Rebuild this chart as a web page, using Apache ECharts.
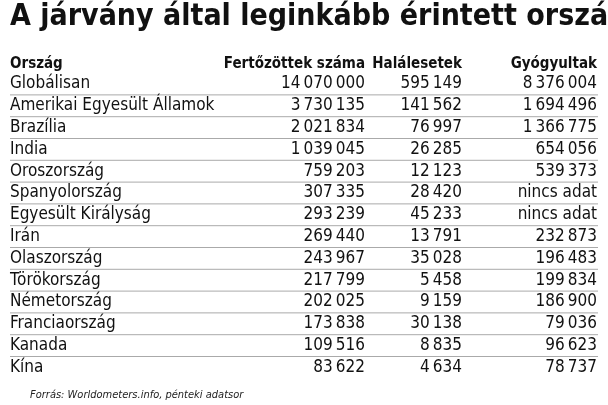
<!DOCTYPE html>
<html>
<head>
<meta charset="utf-8">
<script src="https://cdn.jsdelivr.net/npm/echarts@6/dist/echarts.min.js"></script>
<style>html,body{margin:0;padding:0;background:#fff}#main{width:608px;height:405px}</style>
</head>
<body>
<div id="main"></div>
<script>
var title = 'A járvány által leginkább érintett országok';
var headers = ['Ország', 'Fertőzöttek száma', 'Halálesetek', 'Gyógyultak'];
var countries = ['Globálisan', 'Amerikai Egyesült Államok', 'Brazília', 'India', 'Oroszország',
  'Spanyolország', 'Egyesült Királyság', 'Irán', 'Olaszország', 'Törökország',
  'Németország', 'Franciaország', 'Kanada', 'Kína'];
var infected = ['14 070 000', '3 730 135', '2 021 834', '1 039 045', '759 203', '307 335', '293 239',
  '269 440', '243 967', '217 799', '202 025', '173 838', '109 516', '83 622'];
var deaths = ['595 149', '141 562', '76 997', '26 285', '12 123', '28 420', '45 233',
  '13 791', '35 028', '5 458', '9 159', '30 138', '8 835', '4 634'];
var recovered = ['8 376 004', '1 694 496', '1 366 775', '654 056', '539 373', 'nincs adat', 'nincs adat',
  '232 873', '196 483', '199 834', '186 900', '79 036', '96 623', '78 737'];
var source = 'Forrás: Worldometers.info, pénteki adatsor';

var myChart = echarts.init(document.getElementById('main'));
var bodyFont = '"Liberation Sans Narrow", "DejaVu Sans Condensed", sans-serif';
var colRight = [null, 365, 462, 597];
var rowTop = 84, rowH = 21.8;
var els = [];

// numbers use a thin space as thousands separator
function thin(s) { return s.replace(/ (?=\d)/g, '\u2009'); }

els.push({type: 'text', left: 10, top: 2, style: {text: title, fill: '#111',
  font: 'bold 30px ' + bodyFont}});

headers.forEach(function (h, i) {
  els.push({type: 'text', x: i === 0 ? 10 : colRight[i], y: 64,
    style: {text: h, fill: '#111', font: 'bold 15px ' + bodyFont,
      align: i === 0 ? 'left' : 'right', verticalAlign: 'middle'}});
});

var cols = [infected, deaths, recovered];
countries.forEach(function (c, r) {
  var y = rowTop + r * rowH;
  els.push({type: 'text', x: 10, y: y, style: {text: c, fill: '#111', font: '17px ' + bodyFont,
    verticalAlign: 'middle'}});
  cols.forEach(function (arr, k) {
    els.push({type: 'text', x: colRight[k + 1], y: y, style: {text: thin(arr[r]), fill: '#111',
      font: '17px ' + bodyFont, align: 'right', verticalAlign: 'middle'}});
  });
  if (r < countries.length - 1) {
    els.push({type: 'line', shape: {x1: 10, y1: y + rowH / 2, x2: 598, y2: y + rowH / 2},
      style: {stroke: '#aaa', lineWidth: 1}});
  }
});

els.push({type: 'text', x: 30, y: 395, style: {text: source, fill: '#222',
  font: 'italic 11px "DejaVu Sans Condensed", sans-serif', verticalAlign: 'middle'}});

option = {backgroundColor: '#fff', graphic: els};
myChart.setOption(option);
</script>
</body>
</html>
